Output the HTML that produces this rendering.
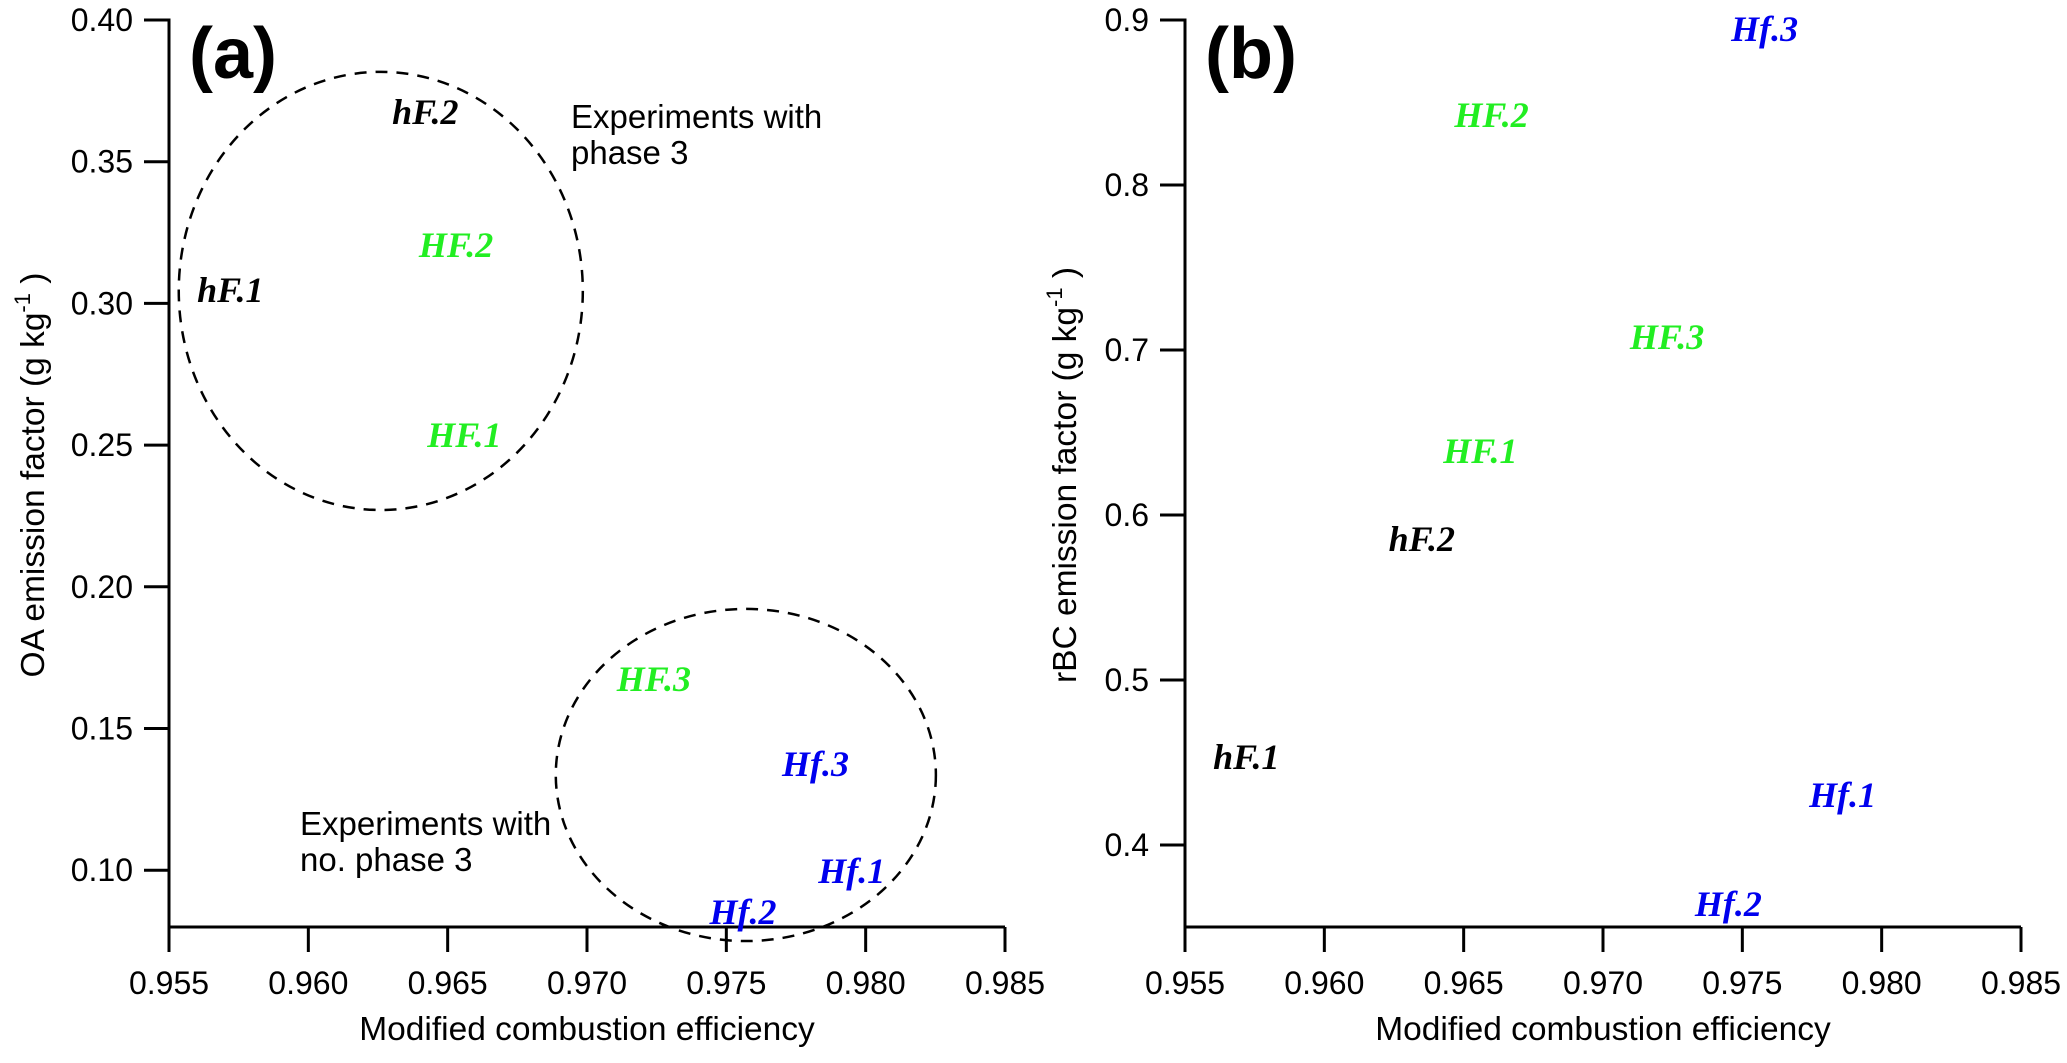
<!DOCTYPE html>
<html><head><meta charset="utf-8"><style>
html,body{margin:0;padding:0;background:#fff;}
svg{display:block;}
text{font-family:"Liberation Sans",Arial,sans-serif;}
.lbl{font-family:"Liberation Serif",serif;font-style:italic;font-weight:bold;font-size:36px;}
</style></head><body>
<svg id="chart" width="2067" height="1063" viewBox="0 0 2067 1063" xmlns="http://www.w3.org/2000/svg"></svg>
<script>
const xTicks = [0.955,0.960,0.965,0.970,0.975,0.980,0.985];
const xTickLabels = ["0.955","0.960","0.965","0.970","0.975","0.980","0.985"];
const aYTicks = [0.10,0.15,0.20,0.25,0.30,0.35,0.40];
const aYTickLabels = ["0.10","0.15","0.20","0.25","0.30","0.35","0.40"];
const bYTicks = [0.4,0.5,0.6,0.7,0.8,0.9];
const bYTickLabels = ["0.4","0.5","0.6","0.7","0.8","0.9"];
const labels = ["hF.1","hF.2","HF.1","HF.2","HF.3","Hf.1","Hf.2","Hf.3"];
const colors = ["#000","#000","#22ee22","#22ee22","#22ee22","#0000ee","#0000ee","#0000ee"];
const aMCE = [0.9572,0.9642,0.9656,0.9653,0.9724,0.9795,0.9756,0.9782];
const aOA  = [0.3047,0.3675,0.2536,0.3206,0.1675,0.0997,0.0852,0.1375];
const bMCE = [0.9572,0.9635,0.9656,0.9660,0.9723,0.9786,0.9745,0.9758];
const bRBC = [0.4533,0.5855,0.6388,0.8424,0.7079,0.4303,0.3642,0.8945];
const circleCx = [0.9626,0.9757];
const circleCy = [0.3044,0.1336];
const circleRx = [0.00725,0.00682];
const circleRy = [0.0773,0.0586];

const NS="http://www.w3.org/2000/svg";
const svg=document.getElementById('chart');
function mk(tag,attrs,parent,txt){const e=document.createElementNS(NS,tag);for(const k in attrs)e.setAttribute(k,attrs[k]);if(txt!==undefined)e.textContent=txt;(parent||svg).appendChild(e);return e;}

function panel(opt){
  const g=mk('g',{});
  
  
  const X=v=>opt.x0+(v-0.955)/0.03*836;
  const Y=v=>20+(opt.ymax-v)/opt.ystep*opt.ypx;
  const bottom=927;
  const ax=mk('path',{d:`M${opt.x0-24} 20 H${opt.x0} V${bottom} H${X(0.985)}`,fill:'none',stroke:'#000','stroke-width':3},g);
  
  
  xTicks.forEach((t,i)=>{
    const l=mk('line',{x1:X(t),x2:X(t),y1:bottom,y2:bottom+25,stroke:'#000','stroke-width':3},g);
    
    
    const tx=mk('text',{x:X(t),y:994,'text-anchor':'middle','font-size':32},g,xTickLabels[i]);
    
    
  });
  opt.yticks.forEach((t,i)=>{
    const l=mk('line',{x1:opt.x0-25,x2:opt.x0,y1:Y(t),y2:Y(t),stroke:'#000','stroke-width':3},g);
    
    
    const tx=mk('text',{x:opt.x0-36,y:Y(t)+11,'text-anchor':'end','font-size':32},g,opt.ylabels[i]);
    
    
  });
  const xt=mk('text',{x:X(0.970),y:1040,'text-anchor':'middle','font-size':33.5},g,'Modified combustion efficiency');
  
  
  const yt=mk('text',{transform:`translate(${opt.ytx},475) rotate(-90)`,'text-anchor':'middle','font-size':33.5},g);
  
  
  mk('tspan',{},yt,opt.ytitle+' (g kg');
  mk('tspan',{dy:-14,'font-size':22},yt,'-1');
  mk('tspan',{dy:14},yt,' )');
  const pl=mk('text',{x:opt.x0+20,y:78,'font-size':72,'font-weight':'bold'},g,opt.plabel);
  
  
  labels.forEach((s,i)=>{
    const t=mk('text',{class:'lbl',x:X(opt.xs[i]),y:Y(opt.ys[i])+12,'text-anchor':'middle',fill:colors[i]},g,s);
    
    
  });
  return {g,X,Y};
}

const a=panel({name:'panel-a',x0:169,ymax:0.40,ystep:0.05,ypx:141.7,yticks:aYTicks,ylabels:aYTickLabels,ytitle:'OA emission factor',ytx:44,plabel:'(a)',xs:aMCE,ys:aOA});
const b=panel({name:'panel-b',x0:1185,ymax:0.9,ystep:0.1,ypx:165,yticks:bYTicks,ylabels:bYTickLabels,ytitle:'rBC emission factor',ytx:1076,plabel:'(b)',xs:bMCE,ys:bRBC});

circleCx.forEach((c,i)=>{
  const cx=a.X(c), cy=a.Y(circleCy[i]);
  const rx=a.X(c+circleRx[i])-cx, ry=cy-a.Y(circleCy[i]+circleRy[i]);
  const e=mk('ellipse',{cx,cy,rx,ry,fill:'none',stroke:'#000','stroke-width':2.5,'stroke-dasharray':'12 9'},a.g);
  
  
});
[['Experiments with',571,128],['phase 3',571,164],['Experiments with',300,835],['no. phase 3',300,871]].forEach(r=>{
  const t=mk('text',{x:r[1],'y':r[2],'font-size':33},a.g,r[0]);
  
  
});
</script>
</body></html>
